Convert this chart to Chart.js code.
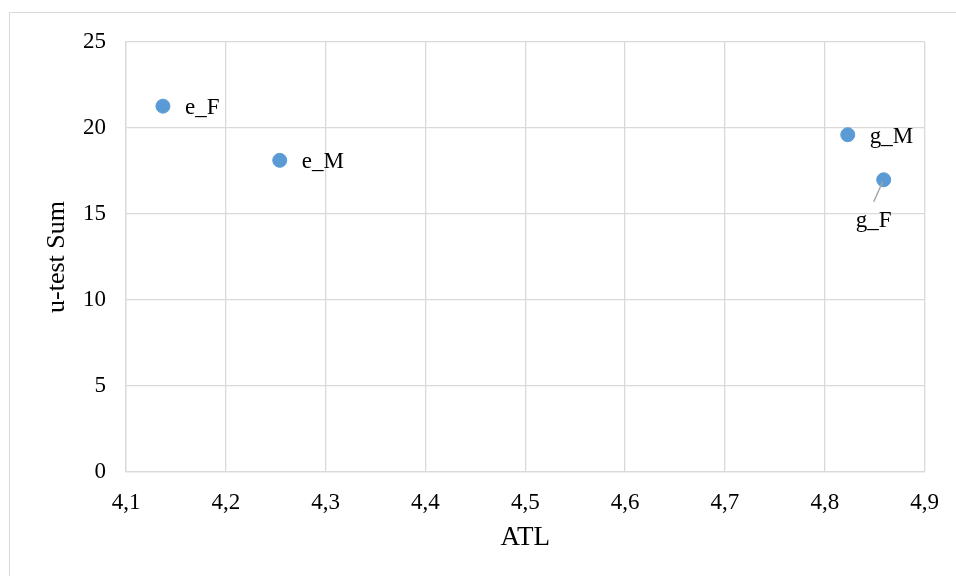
<!DOCTYPE html>
<html>
<head>
<meta charset="utf-8">
<script src="https://cdn.jsdelivr.net/npm/chart.js@4.4.1/dist/chart.umd.min.js"></script>
<style>
  html, body { margin: 0; padding: 0; background: #fff; overflow: hidden; }
  #wrap { position: relative; width: 956px; height: 576px; }
  #frame { position: absolute; left: 9px; top: 12px; width: 1000px; height: 700px; border: 1.5px solid #d9d9d9; box-sizing: border-box; }
  #myChart { position: absolute; left: 0; top: 0; }
</style>
</head>
<body>
<div id="wrap">
  <div id="frame"></div>
  <canvas id="myChart" width="956" height="576"></canvas>
</div>
<script>
// values
const groups = ['e_F', 'e_M', 'g_M', 'g_F'];
const atl = [4.137, 4.254, 4.823, 4.859];
const uTestSum = [21.27, 18.12, 19.61, 16.99];

const serif = "'Liberation Serif', 'Times New Roman', serif";

// labels next to the points, g_F sits below with a leader line
const pointLabels = {
  id: 'pointLabels',
  afterDatasetsDraw(chart) {
    const ctx = chart.ctx;
    const meta = chart.getDatasetMeta(0);
    ctx.save();
    ctx.font = '23px ' + serif;
    ctx.fillStyle = '#000';
    meta.data.forEach((pt, i) => {
      const name = groups[i];
      if (name === 'g_F') {
        ctx.strokeStyle = '#a6a6a6';
        ctx.lineWidth = 1.5;
        ctx.beginPath();
        ctx.moveTo(pt.x - 1, pt.y + 2);
        ctx.lineTo(pt.x - 10, pt.y + 22);
        ctx.stroke();
        ctx.textAlign = 'center';
        ctx.textBaseline = 'middle';
        ctx.fillText(name, pt.x - 10, pt.y + 41);
      } else {
        ctx.textAlign = 'left';
        ctx.textBaseline = 'middle';
        ctx.fillText(name, pt.x + 22, pt.y + 2);
      }
    });
    ctx.restore();
  }
};

const ctx = document.getElementById('myChart').getContext('2d');
const chart = new Chart(ctx, {
  type: 'scatter',
  data: {
    datasets: [{
      label: 'u-test Sum',
      data: atl.map((x, i) => ({ x: x, y: uTestSum[i] })),
      backgroundColor: '#5b9bd5',
      borderColor: '#5b9bd5',
      pointRadius: 7,
      pointHoverRadius: 7
    }]
  },
  options: {
    responsive: false,
    devicePixelRatio: 1,
    animation: false,
    layout: { padding: { top: 42, right: 30, left: 0, bottom: 0 } },
    plugins: {
      legend: { display: false },
      tooltip: { enabled: false }
    },
    scales: {
      x: {
        type: 'linear',
        min: 4.1,
        max: 4.9,
        ticks: {
          stepSize: 0.1,
          padding: 17,
          color: '#000',
          font: { family: serif, size: 23 },
          callback: (v) => v.toFixed(1).replace('.', ',')
        },
        grid: { color: '#d9d9d9', lineWidth: 1.3, drawTicks: false },
        border: { color: '#d9d9d9', width: 1.3 },
        title: {
          display: true,
          text: 'ATL',
          color: '#000',
          font: { family: serif, size: 27 },
          padding: { top: 0, bottom: 22 }
        },
        afterFit: (scale) => { scale.height = 104; }
      },
      y: {
        min: 0,
        max: 25,
        ticks: {
          stepSize: 5,
          padding: 20,
          color: '#000',
          font: { family: serif, size: 23 }
        },
        grid: { color: '#d9d9d9', lineWidth: 1.3, drawTicks: false },
        border: { color: '#d9d9d9', width: 1.3 },
        title: {
          display: true,
          text: 'u-test Sum',
          color: '#000',
          font: { family: serif, size: 26 },
          padding: { top: 42, bottom: 0 }
        },
        afterFit: (scale) => { scale.width = 126; }
      }
    }
  },
  plugins: [pointLabels]
});
</script>
</body>
</html>
